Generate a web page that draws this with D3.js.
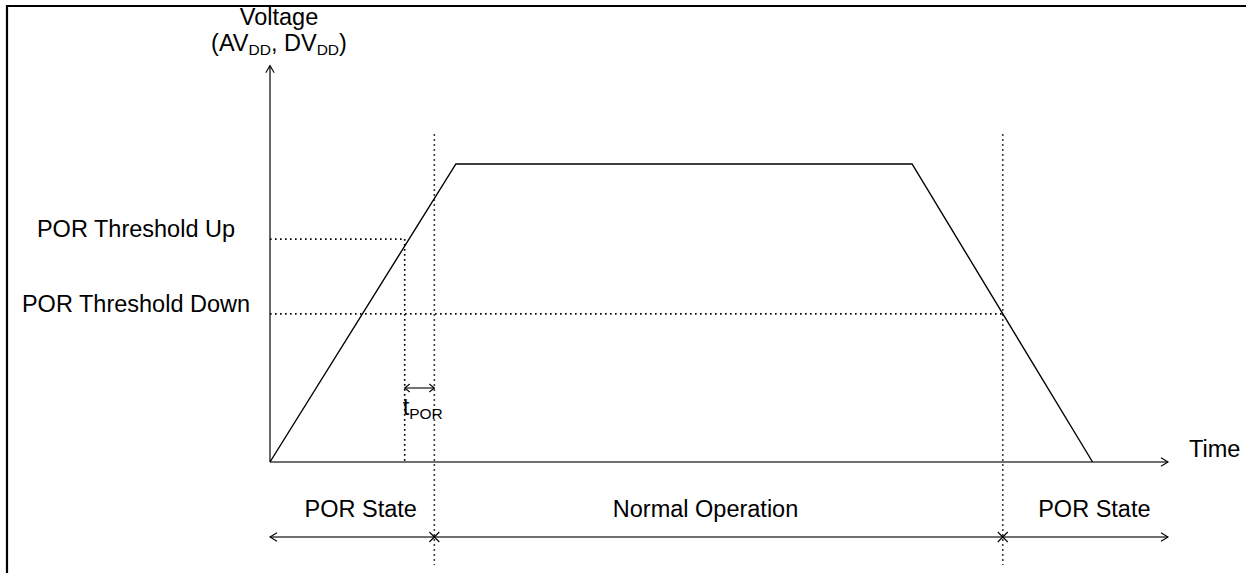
<!DOCTYPE html>
<html><head><meta charset="utf-8">
<script src="https://cdn.jsdelivr.net/npm/d3@7"></script>
<style>html,body{margin:0;padding:0;background:#fff}svg{display:block}text{font-family:"Liberation Sans",Arial,sans-serif;fill:#000}</style>
</head><body><svg id="c" width="1246" height="573"></svg>
<script>
// Time in arbitrary units (0..100 along x axis), voltage in arbitrary units
const voltageTime = [0, 20.7, 71.5, 91.6];
const voltageValues = [0, 100, 100, 0];
const thresholdNames = ["POR Threshold Up", "POR Threshold Down"];
const thresholdValues = [74.8, 49.7];
const thresholdCrossTimes = [15.0, 81.6];
const porEndTime = 18.3;
const stateLabels = ["POR State", "Normal Operation", "POR State"];
const stateLabelTimes = [10.1, 48.5, 91.8];

const svg = d3.select("#c");
const x = d3.scaleLinear().domain([0, 100]).range([270, 1168]);
const y = d3.scaleLinear().domain([0, 100]).range([462, 164]);
const yTop = 133, yDotTop = 110;
const bandY = 537, dotBottom = 565;
const FS = 23.5, SUB = 15.5;

// frame
svg.append("path").attr("d", "M7,573V6H1246").attr("fill", "none").attr("stroke", "#000").attr("stroke-width", 2.2);

const axisCol = "#404040";
function chevron(px, py, dir) {
  const s = 7;
  let d;
  if (dir === "up") d = `M${px - s * 0.6},${py + s}L${px},${py}L${px + s * 0.6},${py + s}`;
  if (dir === "right") d = `M${px - s},${py - s * 0.6}L${px},${py}L${px - s},${py + s * 0.6}`;
  if (dir === "left") d = `M${px + s},${py - s * 0.6}L${px},${py}L${px + s},${py + s * 0.6}`;
  svg.append("path").attr("d", d).attr("fill", "none").attr("stroke", "#000").attr("stroke-width", 1.1);
}
// axes
svg.append("line").attr("x1", x(0)).attr("x2", x(0)).attr("y1", y(0)).attr("y2", y(yTop)).attr("stroke", axisCol).attr("stroke-width", 1.6);
chevron(x(0), y(yTop), "up");
svg.append("line").attr("x1", x(0)).attr("x2", x(100)).attr("y1", y(0)).attr("y2", y(0)).attr("stroke", axisCol).attr("stroke-width", 1.6);
chevron(x(100), y(0), "right");

const dotted = {stroke: "#000", "stroke-width": 1.6, "stroke-dasharray": "1.6,3.4"};
function dline(x1, y1, x2, y2) {
  const l = svg.append("line").attr("x1", x1).attr("y1", y1).attr("x2", x2).attr("y2", y2);
  Object.entries(dotted).forEach(([k, v]) => l.attr(k, v));
}
// thresholds
thresholdValues.forEach((v, i) => {
  dline(x(0), y(v), x(thresholdCrossTimes[i]), y(v));
  svg.append("text").attr("x", 136).attr("y", y(v) - 2).attr("text-anchor", "middle").attr("font-size", FS).text(thresholdNames[i]);
});
// vertical dotted
dline(x(thresholdCrossTimes[0]), y(thresholdValues[0]), x(thresholdCrossTimes[0]), y(0));
dline(x(porEndTime), y(yDotTop), x(porEndTime), dotBottom);
dline(x(thresholdCrossTimes[1]), y(yDotTop), x(thresholdCrossTimes[1]), dotBottom);

// voltage curve
const line = d3.line().x((d, i) => x(voltageTime[i])).y(d => y(d));
svg.append("path").attr("d", line(voltageValues)).attr("fill", "none").attr("stroke", "#000").attr("stroke-width", 1.4);

// tPOR arrow
const ta = 388;
svg.append("line").attr("x1", x(thresholdCrossTimes[0])).attr("x2", x(porEndTime)).attr("y1", ta).attr("y2", ta).attr("stroke", "#000").attr("stroke-width", 1.1);
function small(px, py, dir) {
  const s = 5;
  const d = dir === "left" ? `M${px + s},${py - s * 0.8}L${px},${py}L${px + s},${py + s * 0.8}` : `M${px - s},${py - s * 0.8}L${px},${py}L${px - s},${py + s * 0.8}`;
  svg.append("path").attr("d", d).attr("fill", "none").attr("stroke", "#000").attr("stroke-width", 1.1);
}
small(x(thresholdCrossTimes[0]), ta, "left");
small(x(porEndTime), ta, "right");
const tl = svg.append("text").attr("x", x(thresholdCrossTimes[0]) - 2).attr("y", 415).attr("font-size", FS);
tl.append("tspan").text("t");
tl.append("tspan").attr("font-size", SUB).attr("dy", 4).text("POR");

// labels
svg.append("text").attr("x", 279).attr("y", 25).attr("text-anchor", "middle").attr("font-size", FS).text("Voltage");
const vl2 = svg.append("text").attr("x", 279).attr("y", 51).attr("text-anchor", "middle").attr("font-size", FS);
vl2.append("tspan").text("(AV");
vl2.append("tspan").attr("font-size", SUB).attr("dy", 4).text("DD");
vl2.append("tspan").attr("dy", -4).text(", DV");
vl2.append("tspan").attr("font-size", SUB).attr("dy", 4).text("DD");
vl2.append("tspan").attr("dy", -4).text(")");
svg.append("text").attr("x", 1189).attr("y", 457).attr("font-size", FS).text("Time");

// state band
svg.append("line").attr("x1", x(0)).attr("x2", x(100)).attr("y1", bandY).attr("y2", bandY).attr("stroke", axisCol).attr("stroke-width", 1.3);
chevron(x(0), bandY, "left");
chevron(x(100), bandY, "right");
[porEndTime, thresholdCrossTimes[1]].forEach(t => {
  const s = 5;
  svg.append("path").attr("d", `M${x(t) - s},${bandY - s}L${x(t) + s},${bandY + s}M${x(t) - s},${bandY + s}L${x(t) + s},${bandY - s}`).attr("stroke", "#000").attr("stroke-width", 1.1);
});
stateLabels.forEach((s, i) => {
  svg.append("text").attr("x", x(stateLabelTimes[i])).attr("y", 517).attr("text-anchor", "middle").attr("font-size", FS).text(s);
});
</script></body></html>
